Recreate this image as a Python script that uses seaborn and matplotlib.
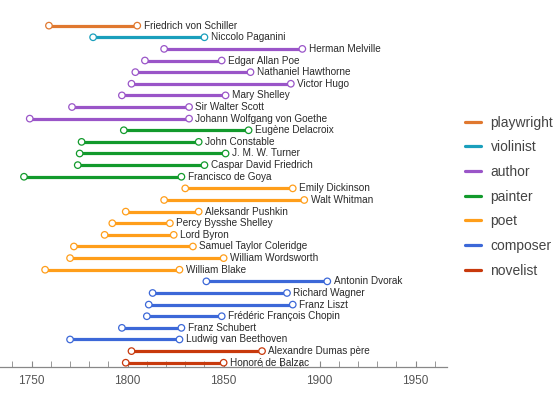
import pandas as pd
import numpy as np
import matplotlib
matplotlib.use("Agg")
import matplotlib.pyplot as plt
import seaborn as sns
from matplotlib.ticker import MultipleLocator

# lifespans, top to bottom as in the chart
names = ["Friedrich von Schiller", "Niccolo Paganini", "Herman Melville", "Edgar Allan Poe",
         "Nathaniel Hawthorne", "Victor Hugo", "Mary Shelley", "Sir Walter Scott",
         "Johann Wolfgang von Goethe", "Eugène Delacroix", "John Constable", "J. M. W. Turner",
         "Caspar David Friedrich", "Francisco de Goya", "Emily Dickinson", "Walt Whitman",
         "Aleksandr Pushkin", "Percy Bysshe Shelley", "Lord Byron", "Samuel Taylor Coleridge",
         "William Wordsworth", "William Blake", "Antonin Dvorak", "Richard Wagner",
         "Franz Liszt", "Frédéric François Chopin", "Franz Schubert", "Ludwig van Beethoven",
         "Alexandre Dumas père", "Honoré de Balzac"]
born = [1759, 1782, 1819, 1809, 1804, 1802, 1797, 1771, 1749, 1798, 1776, 1775, 1774, 1746,
        1830, 1819, 1799, 1792, 1788, 1772, 1770, 1757, 1841, 1813, 1811, 1810, 1797, 1770,
        1802, 1799]
died = [1805, 1840, 1891, 1849, 1864, 1885, 1851, 1832, 1832, 1863, 1837, 1851, 1840, 1828,
        1886, 1892, 1837, 1822, 1824, 1834, 1850, 1827, 1904, 1883, 1886, 1849, 1828, 1827,
        1870, 1850]
roles = ["playwright", "violinist"] + ["author"] * 7 + ["painter"] * 5 + ["poet"] * 8 + \
        ["composer"] * 6 + ["novelist"] * 2

role_order = ["playwright", "violinist", "author", "painter", "poet", "composer", "novelist"]
role_colors = ["#e0782f", "#1a9fbc", "#9a55c8", "#129a2c", "#ff9e1a", "#3c68d8", "#c8390c"]
pal = dict(zip(role_order, role_colors))

rows = []
for i, (n, b, d, r) in enumerate(zip(names, born, died, roles)):
    rows.append({"name": n, "year": b, "row": i, "role": r})
    rows.append({"name": n, "year": d, "row": i, "role": r})
df = pd.DataFrame(rows)

sns.set_style("ticks")
plt.rcParams["font.family"] = ["Liberation Sans", "DejaVu Sans"]

fig = plt.figure(figsize=(5.6, 3.98), dpi=100)
ax = fig.add_axes([0.0, 0.079, 0.798, 0.896])

sns.lineplot(data=df, x="year", y="row", hue="role", hue_order=role_order, units="name",
             estimator=None, sort=False, palette=pal, lw=2.3, ax=ax, zorder=2)
handles, labels = ax.get_legend_handles_labels()
ax.get_legend().remove()

sns.scatterplot(data=df, x="year", y="row", hue="role", hue_order=role_order, palette=pal,
                s=22, linewidth=0.9, legend=False, ax=ax, zorder=3)
coll = ax.collections[-1]
coll.set_edgecolors(coll.get_facecolors())
coll.set_facecolors("white")

for i, (n, d) in enumerate(zip(names, died)):
    ax.annotate(n, (d, i), xytext=(4.6, 0), textcoords="offset points", va="center",
                ha="left", fontsize=7.2, color="#2a2a2a")

ax.set_xlim(1733.5, 1966.3)
ax.set_ylim(29.33, -1.35)
ax.xaxis.set_major_locator(MultipleLocator(50))
ax.xaxis.set_minor_locator(MultipleLocator(10))
ax.tick_params(axis="x", which="both", direction="in", length=4, color="#888888",
               labelsize=8.5, labelcolor="#555555", pad=6)
ax.set_yticks([])
ax.set_xlabel("")
ax.set_ylabel("")
for s in ["left", "top", "right"]:
    ax.spines[s].set_visible(False)
ax.spines["bottom"].set_color("#888888")
ax.spines["bottom"].set_linewidth(0.9)

fig.legend(handles, labels, loc="center left", bbox_to_anchor=(0.830, 0.506),
           frameon=False, fontsize=10, labelcolor="#444444", handlelength=1.2,
           handletextpad=0.65, labelspacing=0.77, borderpad=0, borderaxespad=0)

fig.savefig("out.png", dpi=100)
